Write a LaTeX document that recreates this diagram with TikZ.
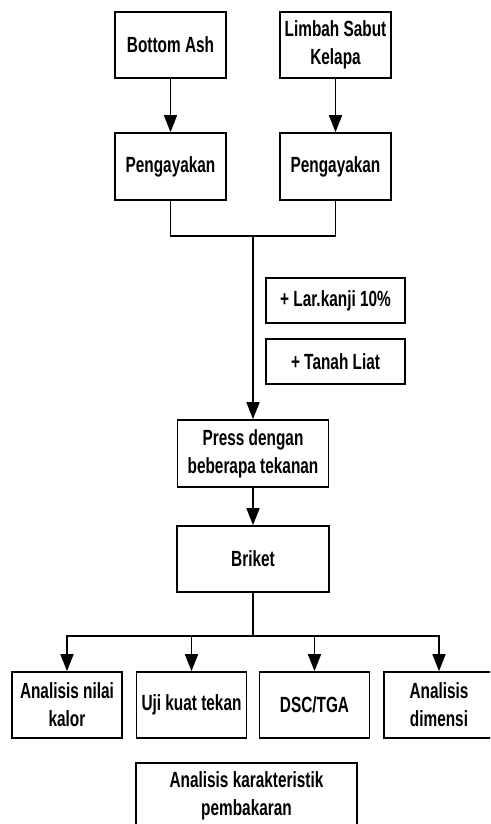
\documentclass[tikz,border=0pt]{standalone}
\usepackage{fontspec}
\setmainfont[FakeStretch=0.7]{Liberation Sans}
\usepackage{tikz}
\usetikzlibrary{arrows.meta,calc,positioning}

\begin{document}
\begin{tikzpicture}[
		box/.style={rectangle, draw, line width=1pt, align=center, inner sep=1pt,
			font=\fontsize{12.5}{16}\selectfont\bfseries},
		bigbox/.style={box, minimum width=2.22cm, minimum height=1.32cm},
		addbox/.style={box, minimum width=2.78cm, minimum height=0.90cm},
		testbox/.style={box, minimum width=2.2cm, minimum height=1.32cm},
		line width=1pt,
		>={Triangle[length=0.34cm,width=0.26cm]}
		]
		\useasboundingbox (0,0) rectangle (9.8,-16.48);
		\clip (0,0) rectangle (9.8,-16.48);
		
		% Bahan baku
		\node[bigbox] (ash) at (3.41,-0.90) {Bottom Ash};
		\node[bigbox] (sabut) at (6.71,-0.90) {Limbah Sabut\\Kelapa};
		\node[bigbox, minimum height=1.34cm] (ayak1) at (3.41,-3.33) {Pengayakan};
		\node[bigbox, minimum height=1.34cm] (ayak2) at (6.71,-3.33) {Pengayakan};
		\coordinate (gabung) at (5.06,-4.72);
		
		% Bahan tambahan
		\node[addbox] (kanji) at (6.71,-6.01) {+ Lar.kanji 10\%};
		\node[addbox] (liat) at (6.71,-7.23) {+ Tanah Liat};
		
		% Proses
		\node[box, minimum width=3.02cm, minimum height=1.34cm] (press) at (5.06,-9.07) {Press dengan\\beberapa tekanan};
		\node[box, minimum width=3.04cm, minimum height=1.32cm] (briket) at (5.06,-11.18) {Briket};
		\coordinate (cabang) at (5.06,-12.72);
		
		% Pengujian
		\node[testbox] (uji1) at (1.34,-14.10) {Analisis nilai\\kalor};
		\node[testbox] (uji2) at (3.83,-14.10) {Uji kuat tekan};
		\node[testbox] (uji3) at (6.29,-14.10) {DSC/TGA};
		\node[testbox] (uji4) at (8.78,-14.10) {Analisis\\dimensi};
		\node[box, minimum width=4.42cm, minimum height=1.32cm] (bakar) at (4.93,-15.92) {Analisis karakteristik\\pembakaran};
		
		% Panah
		\draw[->] (ash) -- (ayak1);
		\draw[->] (sabut) -- (ayak2);
		\draw (ayak1.south) |- (gabung) -| (ayak2.south);
		\draw[->] (gabung) -- (press);
		\draw[->] (press) -- (briket);
		\draw (briket) -- (cabang);
		\foreach \u in {uji1,uji2,uji3,uji4}
			\draw[->] (cabang) -| (\u);
	\end{tikzpicture}
\end{document}
